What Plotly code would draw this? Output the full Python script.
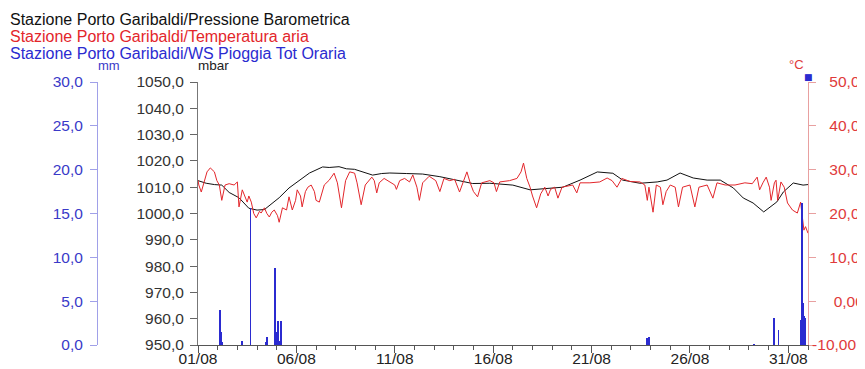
import pandas as pd
import plotly.graph_objects as go

START = pd.Timestamp("2023-08-01 00:00")

# pressure (mbar) read at hour offsets from 01/08 00:00
pressure_hour = [0, 10, 20, 29, 38, 50, 62, 72, 81, 89, 99, 111, 123, 136, 152, 160, 172, 181,
                 191, 200, 213, 224, 234, 254, 274, 295, 315, 335, 356, 384, 405, 425, 445,
                 466, 487, 506, 518, 539, 560, 572, 588, 604, 621, 637, 653, 665, 677, 690,
                 698, 706, 714, 726, 738, 744]
pressure_mbar = [1012.5, 1011.5, 1011.0, 1010.8, 1008.0, 1006.0, 1002.0, 1001.3, 1001.5, 1003.5,
                 1006.0, 1009.7, 1012.6, 1015.4, 1017.7, 1017.5, 1017.8, 1017.0, 1016.8, 1016.0,
                 1014.6, 1015.2, 1015.4, 1015.2, 1015.0, 1014.0, 1012.7, 1011.4, 1011.5, 1010.8,
                 1009.0, 1009.6, 1010.0, 1012.7, 1015.8, 1015.3, 1012.7, 1011.5, 1012.0, 1012.7,
                 1015.4, 1013.5, 1012.7, 1012.7, 1009.7, 1005.9, 1004.0, 1000.6, 1002.5, 1004.4,
                 1008.2, 1011.6, 1010.8, 1011.0]

# air temperature (°C) read at hour offsets from 01/08 00:00
temp_hour = [0, 1, 4, 7, 11, 15, 20, 23, 26, 29, 33, 38, 44, 48, 50, 54, 57, 60, 62, 65,
             68, 71, 75, 77, 81, 84, 87, 90, 93, 97, 99, 103, 108, 111, 115, 119, 121, 125,
             127, 131, 134, 138, 142, 144, 148, 152, 154, 160, 166, 170, 175, 180, 185, 191,
             194, 199, 204, 212, 215, 218, 221, 227, 234, 240, 242, 246, 252, 258, 262, 267,
             270, 274, 282, 290, 295, 300, 307, 313, 319, 324, 328, 332, 336, 341, 346, 356,
             361, 364, 368, 380, 389, 394, 397, 401, 405, 408, 413, 418, 423, 427, 430, 435,
             439, 444, 451, 457, 462, 466, 478, 490, 499, 505, 511, 517, 527, 539, 545, 548,
             550, 553, 555, 559, 564, 567, 571, 576, 582, 586, 591, 600, 606, 611, 621, 628,
             633, 643, 655, 667, 676, 682, 685, 689, 693, 697, 699, 703, 705, 707, 711, 715,
             719, 725, 731, 735, 739, 741, 744]
temp_c = [27.6, 26.5, 24.9, 27.0, 29.5, 30.4, 29.5, 27.5, 26.5, 23.0, 26.5, 26.8, 26.5, 27.2,
          21.5, 25.4, 24.0, 22.6, 24.0, 22.6, 20.0, 19.0, 20.5, 20.1, 21.3, 20.0, 19.2, 20.3,
          20.8, 19.5, 18.0, 21.3, 20.8, 23.8, 20.8, 23.0, 25.4, 24.0, 21.5, 25.0, 26.0, 26.5,
          25.0, 23.0, 22.6, 25.0, 26.5, 27.6, 29.2, 27.0, 21.3, 27.5, 29.5, 29.2, 27.0, 22.0,
          26.5, 28.3, 27.5, 24.7, 27.0, 28.0, 27.2, 26.5, 25.5, 27.5, 28.0, 27.2, 28.8, 26.0,
          23.0, 27.0, 28.5, 27.5, 25.0, 28.0, 27.5, 27.8, 24.9, 27.5, 29.5, 27.0, 25.0, 23.8,
          27.0, 27.5, 27.0, 25.0, 27.2, 27.5, 28.0, 29.5, 31.5, 28.0, 26.0, 24.0, 21.3, 24.5,
          26.0, 24.0, 25.5, 26.0, 23.5, 26.0, 26.3, 26.5, 24.7, 27.0, 27.0, 27.2, 28.1, 27.5,
          26.0, 28.0, 27.3, 27.2, 26.5, 23.0, 26.0, 22.6, 20.3, 26.5, 26.0, 22.0, 25.0, 26.5,
          26.0, 21.5, 26.0, 26.5, 21.5, 26.0, 26.5, 23.5, 27.0, 26.5, 26.5, 27.0, 26.8, 28.3,
          25.4, 27.0, 28.3, 26.0, 23.0, 27.0, 27.6, 23.0, 27.2, 26.0, 22.4, 20.8, 20.1, 22.6,
          16.2, 17.0, 15.5]

# hourly rain total (mm) at hour offsets from 01/08 00:00
rain_hour = [27, 28, 29, 54, 64, 83, 84, 94, 95, 98, 99, 101, 548, 550, 678, 702, 703, 708,
             735, 736, 737, 738, 739, 740, 741]
rain_mm = [4.0, 1.5, 0.3, 0.5, 15.6, 0.3, 0.9, 8.8, 1.5, 2.7, 0.5, 2.7, 0.8, 0.9, 0.1, 3.1,
           2.1, 1.7, 1.8, 2.9, 16.2, 4.8, 3.3, 3.1, 0.5]

# off-scale rain marker shown at the top of the rain scale
flag_hour = [744]
flag_mm = [30.0]

x_range = ["2023-08-01 00:00", "2023-09-01 00:00"]
temp_tickvals = [-10, 0, 10, 20, 30, 40, 50]
# right-aligned look: figure/punctuation spaces pad the shorter labels
temp_ticktext = ["-10,00", "\u2007\u2007\u20080,00", "\u2007\u200710,00", "\u2007\u200720,00",
                 "\u2007\u200730,00", "\u2007\u200740,00", "\u2007\u200750,00"]

legend_texts = [
    "Stazione Porto Garibaldi/Pressione Barometrica",
    "Stazione Porto Garibaldi/Temperatura aria",
    "Stazione Porto Garibaldi/WS Pioggia Tot Oraria",
]


def to_time(hours):
    return [START + pd.Timedelta(hours=h) for h in hours]


FONT = "Liberation Sans, Arial, sans-serif"
BLACK = "#111111"
RED = "#e3262b"
BLUE = "#2b2bd0"

# page body has an 8px margin: the figure is sized to fill the rest of the window
OFF = 8
W, H = 865 - OFF, 369 - OFF
ML, MR, MT, MB = 97 - OFF, 57, 82 - OFF, 24
PW = W - ML - MR
PH = H - MT - MB

fig = go.Figure()
fig.add_trace(go.Scatter(x=to_time(pressure_hour), y=pressure_mbar, mode="lines",
                         line=dict(color=BLACK, width=1), yaxis="y", name=legend_texts[0]))
fig.add_trace(go.Scatter(x=to_time(temp_hour), y=temp_c, mode="lines",
                         line=dict(color=RED, width=1), yaxis="y2", name=legend_texts[1]))
fig.add_trace(go.Bar(x=to_time(rain_hour), y=rain_mm, width=4000000, yaxis="y3",
                     marker=dict(color=BLUE, line=dict(width=0)),
                     name=legend_texts[2]))

tick_font = dict(family=FONT, size=15.5)

fig.update_layout(
    width=W, height=H,
    margin=dict(l=ML, r=MR, t=MT, b=MB, pad=0),
    template="none",
    paper_bgcolor="white", plot_bgcolor="white",
    showlegend=False,
    separators=",.",
    bargap=0,
    xaxis=dict(
        domain=[(198 - 97) / PW, 1], range=x_range, type="date",
        tickformat="%d/%m", tick0=x_range[0], dtick=5 * 86400000,
        ticks="outside", ticklen=7, tickcolor="#555", tickwidth=1,
        showline=True, linecolor="#555", linewidth=1,
        showgrid=False, zeroline=False, automargin=False,
        tickfont=dict(tick_font, color="#222"), ticklabelstandoff=-8,
        minor=dict(dtick=86400000, tick0=x_range[0], ticks="outside", ticklen=4,
                   tickcolor="#555", showgrid=False),
        anchor="y",
    ),
    yaxis=dict(
        range=[950, 1050], dtick=10, tick0=950, tickformat=".1f",
        ticks="outside", ticklen=7, tickcolor="#666", showline=True, linecolor="#777",
        showgrid=False, zeroline=False, automargin=False, side="left", anchor="x",
        tickfont=dict(tick_font, color="#333"), ticklabelstandoff=3,
    ),
    yaxis2=dict(
        range=[-10, 50], tickvals=temp_tickvals, ticktext=temp_ticktext,
        ticks="outside", ticklen=7, tickcolor="#e8a0a0", showline=True, linecolor="#e8a0a0",
        showgrid=False, zeroline=False, automargin=False, side="right", anchor="x",
        overlaying="y", tickfont=dict(tick_font, color="#e03a3a"), ticklabelstandoff=-7,
    ),
    yaxis3=dict(
        range=[0, 30], dtick=5, tick0=0, tickformat=".1f",
        ticks="outside", ticklen=7, tickcolor="#a0a0e8", showline=True, linecolor="#a0a0e8",
        showgrid=False, zeroline=False, automargin=False, side="left", anchor="free",
        position=0, overlaying="y", tickfont=dict(tick_font, color="#3a3ac8"),
        ticklabelstandoff=4,
    ),
)


def px_x(x):
    return (x - OFF - ML) / PW


def px_y(y):
    return (H - MB - (y - OFF)) / PH


ann = []
for txt, col, yy in zip(legend_texts, [BLACK, RED, BLUE], [19, 36, 53]):
    ann.append(dict(text=txt, x=px_x(8), y=px_y(yy), xref="paper", yref="paper",
                    xanchor="left", yanchor="middle", showarrow=False,
                    font=dict(family=FONT, size=16, color=col)))
ann.append(dict(text="mm", x=px_x(96), y=px_y(66), xref="paper", yref="paper",
                xanchor="left", yanchor="middle", showarrow=False,
                font=dict(family=FONT, size=13, color="#3a3ac8")))
ann.append(dict(text="mbar", x=px_x(196), y=px_y(66), xref="paper", yref="paper",
                xanchor="left", yanchor="middle", showarrow=False,
                font=dict(family=FONT, size=13.5, color="#222")))
ann.append(dict(text="°C", x=px_x(806), y=px_y(64), xref="paper", yref="paper",
                xanchor="right", yanchor="middle", showarrow=False,
                font=dict(family=FONT, size=13, color="#e03a3a")))
for fh, fv in zip(flag_hour, flag_mm):
    ann.append(dict(text="■", x=to_time([fh])[0], y=fv, xref="x", yref="y3",
                    xanchor="center", yanchor="middle", showarrow=False, yshift=5,
                    font=dict(family="DejaVu Sans", size=9, color=BLUE)))
fig.update_layout(annotations=ann)

fig.write_html("out.html")
